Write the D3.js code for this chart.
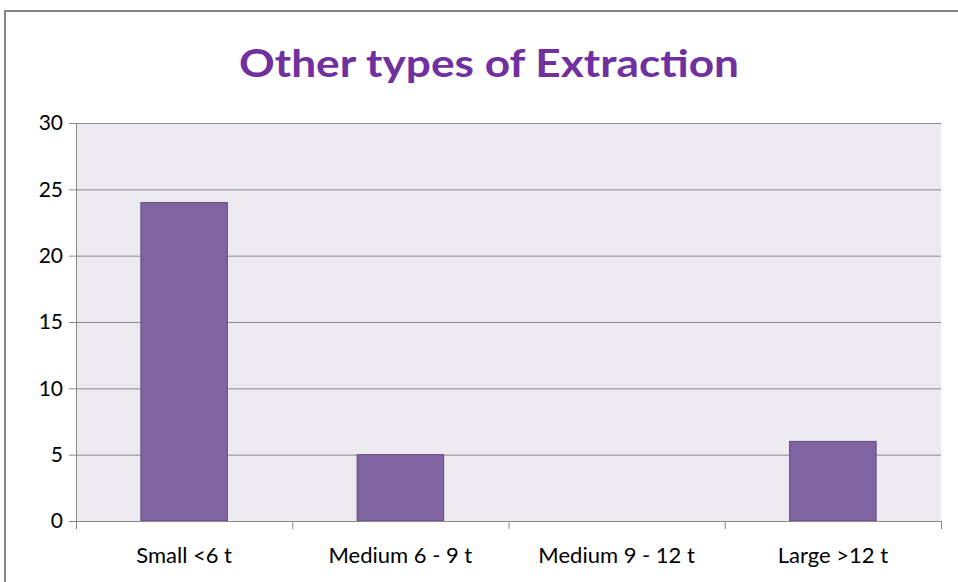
<!DOCTYPE html>
<meta charset="utf-8">
<style>
    body { margin: 0; background: #fff; }
    text { font-family: Lato, 'Open Sans', sans-serif; }
</style>
<svg width="958" height="582"></svg>
<script src="https://d3js.org/d3.v7.min.js"></script>
<script>

    const categories = ["Small <6 t", "Medium 6 - 9 t", "Medium 9 - 12 t", "Large >12 t"];
    const values = [24, 5, 0, 6];
    const yTicks = [0, 5, 10, 15, 20, 25, 30];
    const title = "Other types of Extraction";

    var svg = d3.select("svg"),
        width = +svg.attr("width"),
        height = +svg.attr("height");

    const margin = {left: 76, right: 17, top: 123, bottom: 61};
    const plotW = width - margin.left - margin.right,
        plotH = height - margin.top - margin.bottom;

    // outer chart frame (cropped on right/bottom)
    svg.append("path")
        .attr("d", "M5," + height + " V11 H" + width)
        .attr("fill", "none")
        .attr("stroke", "#878787")
        .attr("stroke-width", 2);

    svg.append("text")
        .attr("x", 489).attr("y", 77)
        .attr("text-anchor", "middle")
        .attr("font-size", 38)
        .attr("font-weight", "bold")
        .attr("fill", "#7030A0")
        .attr("textLength", 500)
        .attr("lengthAdjust", "spacingAndGlyphs")
        .text(title);

    var x = d3.scaleBand().domain(categories).range([0, plotW]).paddingInner(0.6).paddingOuter(0.3);
    var y = d3.scaleLinear().domain([0, 30]).range([plotH, 0]);

    var g = svg.append("g").attr("transform", "translate(" + margin.left + "," + margin.top + ")");

    g.append("rect")
        .attr("width", plotW).attr("height", plotH)
        .attr("fill", "#ECEAF0");

    // gridlines
    g.append("g").selectAll("line")
        .data(yTicks.filter(d => d > 0))
        .enter().append("line")
        .attr("x1", 0).attr("x2", plotW)
        .attr("y1", d => y(d) + 0.5).attr("y2", d => y(d) + 0.5)
        .attr("stroke", "#8A8A8A").attr("stroke-width", 1);

    g.append("g").selectAll("rect")
        .data(values)
        .enter().append("rect")
        .attr("x", (d, i) => x(categories[i]))
        .attr("y", d => y(d))
        .attr("width", x.bandwidth())
        .attr("height", d => plotH - y(d))
        .attr("fill", "#8064A2")
        .attr("stroke", d => d > 0 ? "#5E4A7D" : "none")
        .attr("stroke-width", 1);

    // y axis
    var yAxis = g.append("g")
        .call(d3.axisLeft(y).tickValues(yTicks).tickSize(7).tickPadding(6).tickSizeOuter(0));
    yAxis.select(".domain").attr("stroke", "#8A8A8A");
    yAxis.selectAll(".tick line").attr("stroke", "#8A8A8A");
    yAxis.selectAll("text").attr("font-size", 21).attr("fill", "#000").attr("font-family", "Lato, sans-serif");

    // x axis with boundary ticks
    var step = plotW / categories.length;
    var xa = g.append("g").attr("transform", "translate(0," + plotH + ")");
    xa.append("line").attr("x1", -7).attr("x2", plotW).attr("y1", 0.5).attr("y2", 0.5).attr("stroke", "#8A8A8A");
    xa.selectAll(".bt").data(d3.range(categories.length + 1)).enter().append("line")
        .attr("x1", d => d * step + 0.5).attr("x2", d => d * step + 0.5)
        .attr("y1", 0).attr("y2", 8)
        .attr("stroke", "#8A8A8A");
    xa.selectAll(".lbl").data(categories).enter().append("text")
        .attr("x", (d, i) => (i + 0.5) * step)
        .attr("y", 42)
        .attr("text-anchor", "middle")
        .attr("font-size", 22)
        .attr("fill", "#000")
        .text(d => d);

</script>
